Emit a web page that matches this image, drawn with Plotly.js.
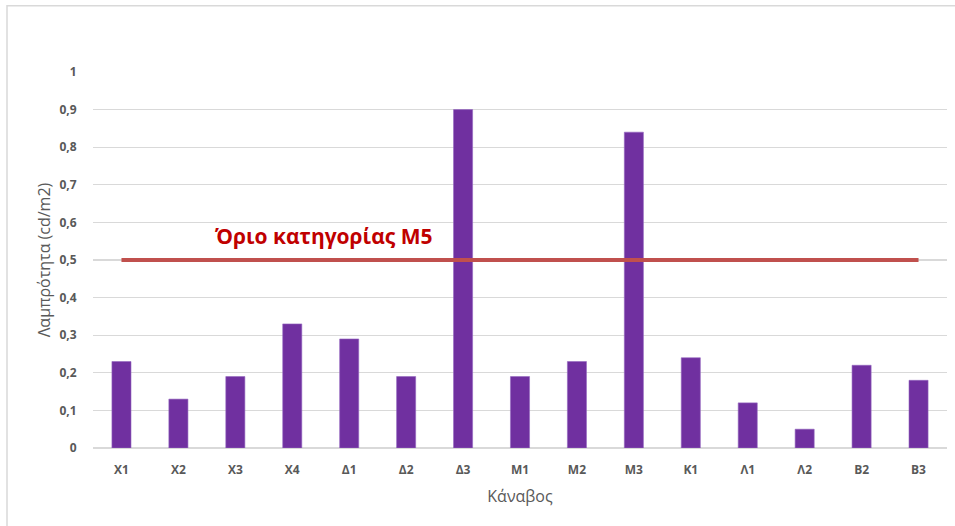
<!DOCTYPE html>
<html>
<head>
<meta charset="utf-8">
<script src="https://cdn.plot.ly/plotly-3.0.1.min.js"></script>
<style>html,body{margin:0;padding:0;background:#fff;}#chart{width:955px;height:526px;}</style>
</head>
<body>
<div id="chart"></div>
<script>
const categories = ["Χ1","Χ2","Χ3","Χ4","Δ1","Δ2","Δ3","Μ1","Μ2","Μ3","Κ1","Λ1","Λ2","Β2","Β3"];
const luminance = [0.23,0.13,0.19,0.33,0.29,0.19,0.90,0.19,0.23,0.84,0.24,0.12,0.05,0.22,0.18];
const limitValue = 0.5;
const limitLabel = "Όριο κατηγορίας Μ5";
const yTickVals = [0,0.1,0.2,0.3,0.4,0.5,0.6,0.7,0.8,0.9,1];
const yTickText = ["0","0,1","0,2","0,3","0,4","0,5","0,6","0,7","0,8","0,9","1"];

const W = 955, H = 526;
const L = 93, R = 8, T = 71.5, B = 77.5;
const pw = W - L - R, ph = H - T - B;
const px = v => (v - L) / pw;
const py = v => (H - B - v) / ph;

const font = "'Open Sans', 'Noto Sans', sans-serif";

const traces = [
  {
    type: "bar",
    x: categories,
    y: luminance,
    marker: {color: "#7030A0", line: {color: "#9466C0", width: 0.6}},
    hoverinfo: "x+y",
    showlegend: false
  },
  {
    type: "scatter",
    mode: "lines",
    x: [categories[0], categories[categories.length - 1]],
    y: [limitValue, limitValue],
    line: {color: "#C0504D", width: 4},
    showlegend: false,
    hoverinfo: "skip"
  }
];

const layout = {
  width: W, height: H,
  margin: {l: L, r: R, t: T, b: B, pad: 0},
  paper_bgcolor: "#ffffff",
  plot_bgcolor: "#ffffff",
  bargap: 0.665,
  showlegend: false,
  xaxis: {
    type: "category",
    range: [-0.5, categories.length - 0.5],
    showgrid: false,
    zeroline: false,
    showline: false,
    ticks: "outside", ticklen: 11, tickcolor: "rgba(0,0,0,0)",
    tickfont: {family: font, size: 12, color: "#595959", weight: "bold"},
    title: {text: "Κάναβος", font: {family: font, size: 16, color: "#595959"}, standoff: 13},
    fixedrange: true
  },
  yaxis: {
    range: [0, 1],
    tickvals: yTickVals,
    ticktext: yTickText,
    showgrid: true,
    gridcolor: "#D9D9D9",
    gridwidth: 1.3,
    zeroline: true,
    zerolinecolor: "#D9D9D9",
    zerolinewidth: 1.3,
    showline: false,
    ticks: "outside", ticklen: 13, tickcolor: "rgba(0,0,0,0)",
    tickfont: {family: font, size: 12, color: "#595959", weight: "bold"},
    title: {text: "Λαμπρότητα (cd/m2)", font: {family: font, size: 16, color: "#595959"}, standoff: 4},
    fixedrange: true
  },
  annotations: [
    {
      xref: "paper", yref: "paper",
      x: px(323), y: py(236),
      xanchor: "center", yanchor: "middle",
      text: limitLabel,
      showarrow: false,
      font: {family: font, size: 21, color: "#C00000", weight: "bold"}
    }
  ],
  shapes: [
    {
      type: "rect", xref: "paper", yref: "paper",
      x0: px(7), x1: px(965), y0: py(540), y1: py(5),
      line: {color: "#D9D9D9", width: 1.5},
      fillcolor: "rgba(0,0,0,0)",
      layer: "below"
    }
  ]
};

Plotly.newPlot("chart", traces, layout, {displayModeBar: false, staticPlot: true});
</script>
</body>
</html>
